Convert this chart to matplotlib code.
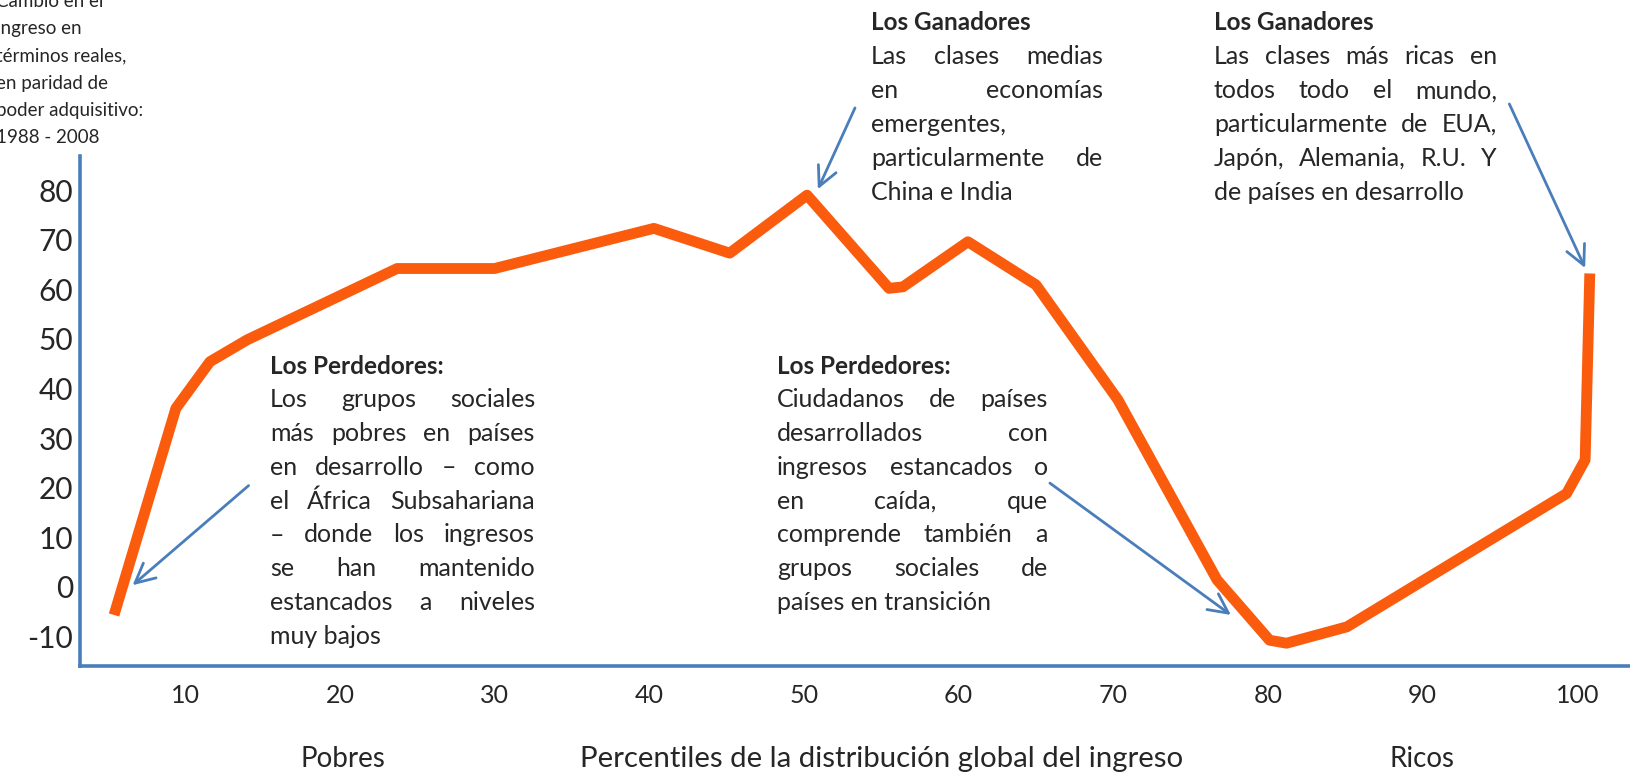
import matplotlib

matplotlib.use("Agg")
import matplotlib.pyplot as plt

# Curva del elefante: cambio del ingreso real (%) por percentil global, 1988-2008
PERCENTILES = [5.4, 9.4, 11.6, 14.0, 23.7, 30.0, 40.3, 45.2, 50.2, 55.5, 56.4,
               60.6, 65.0, 70.3, 76.7, 80.1, 81.2, 85.1, 99.3, 100.5, 100.8]
INCOME_CHANGE = [-5.7, 36.0, 45.4, 49.8, 64.2, 64.2, 72.3, 67.3, 79.0, 60.2, 60.5,
                 69.6, 60.9, 37.7, 1.4, -10.8, -11.4, -8.1, 18.8, 25.6, 63.2]
X_TICKS = [10, 20, 30, 40, 50, 60, 70, 80, 90, 100]
Y_TICKS = [-10, 0, 10, 20, 30, 40, 50, 60, 70, 80]

Y_LABEL = "Cambio en el\ningreso en\ntérminos reales,\nen paridad de\npoder adquisitivo:\n1988 - 2008"
X_LABEL = "Percentiles de la distribución global del ingreso"
POOR_LABEL = "Pobres"
RICH_LABEL = "Ricos"

NOTES = [
    ("Los Perdedores:", [[
        "Los grupos sociales",
        "más pobres en países",
        "en desarrollo – como",
        "el África Subsahariana",
        "– donde los ingresos",
        "se han mantenido",
        "estancados a niveles",
        "muy bajos",
    ]]),
    ("Los Perdedores:", [[
        "Ciudadanos de países",
        "desarrollados con",
        "ingresos estancados o",
        "en caída, que",
        "comprende también a",
        "grupos sociales de",
        "países en transición",
    ]]),
    ("Los Ganadores", [
        ["Las clases medias", "en economías", "emergentes,"],
        ["particularmente de", "China e India"],
    ]),
    ("Los Ganadores", [[
        "Las clases más ricas en",
        "todos todo el mundo,",
        "particularmente de EUA,",
        "Japón, Alemania, R.U. Y",
        "de países en desarrollo",
    ]]),
]
# (left, right, top) de cada bloque de texto, en pixeles de la figura
NOTE_BOXES = [(270, 535, 366), (777, 1048, 366), (871, 1103, 23), (1214, 1497, 23)]
# flechas: (cola, punta) en coordenadas de datos
ARROWS = [
    ((14.1, 20.4), (6.6, 0.3)),
    ((53.3, 96.6), (50.9, 80.2)),
    ((65.9, 20.9), (77.6, -5.7)),
    ((95.6, 97.4), (100.5, 64.3)),
]

W, H = 1630, 773
LINE_COLOR = "#fb5b0c"
AXIS_COLOR = "#4a7ebb"
TEXT_COLOR = "#262626"
LINE_STEP = 33.8


def px(x, y):
    return x / W, 1 - y / H


def justified_block(fig, renderer, left, right, top, title, paragraphs, size=18):
    fig.text(*px(left, top), title, fontsize=17.5, fontweight="bold",
             color=TEXT_COLOR, va="center", ha="left")
    row = 1
    for para in paragraphs:
        for index, line in enumerate(para):
            y = top + row * LINE_STEP
            words = line.split(" ")
            if index == len(para) - 1 or len(words) == 1:
                fig.text(*px(left, y), line, fontsize=size, color=TEXT_COLOR, va="center", ha="left")
            else:
                arts = [fig.text(0, 0, w, fontsize=size, color=TEXT_COLOR, va="center", ha="left")
                        for w in words]
                widths = [a.get_window_extent(renderer).width for a in arts]
                gap = (right - left - sum(widths)) / (len(words) - 1)
                x = left
                for art, width in zip(arts, widths):
                    art.set_position(px(x, y))
                    x += width + gap
            row += 1


def main() -> None:
    plt.rcParams["font.family"] = ["Lato", "DejaVu Sans"]
    plt.rcParams["axes.unicode_minus"] = False
    fig = plt.figure(figsize=(W / 100, H / 100), dpi=100)
    ax = fig.add_axes([80 / W, 1 - 666 / H, 1 - 80 / W, (666 - 156) / H])

    ax.plot(PERCENTILES, INCOME_CHANGE, color=LINE_COLOR, linewidth=7.8,
            solid_joinstyle="round", solid_capstyle="butt", zorder=3)

    ax.set_xlim(3.2, 103.4)
    ax.set_ylim(-16.0, 86.9)
    ax.set_xticks(X_TICKS)
    ax.set_yticks(Y_TICKS)
    ax.tick_params(axis="both", length=0, colors=TEXT_COLOR)
    ax.tick_params(axis="y", labelsize=21.5, pad=5)
    ax.tick_params(axis="x", labelsize=18, pad=13)
    for side in ("top", "right"):
        ax.spines[side].set_visible(False)
    for side in ("left", "bottom"):
        ax.spines[side].set_color(AXIS_COLOR)
        ax.spines[side].set_linewidth(2.6)
    ax.patch.set_alpha(0)

    for tail, head in ARROWS:
        ax.annotate("", xy=head, xytext=tail, annotation_clip=False,
                    arrowprops=dict(arrowstyle="->,head_length=0.7,head_width=0.35",
                                    color=AXIS_COLOR, lw=2.0, mutation_scale=20,
                                    shrinkA=0, shrinkB=0))

    fig.text(*px(-4, 69.5), Y_LABEL, fontsize=13.5, color=TEXT_COLOR, va="center", ha="left",
             linespacing=1.73)
    fig.text(*px(343, 759), POOR_LABEL, fontsize=20, color=TEXT_COLOR, ha="center", va="center")
    fig.text(*px(882, 759), X_LABEL, fontsize=21.2, color=TEXT_COLOR, ha="center", va="center")
    fig.text(*px(1422, 759), RICH_LABEL, fontsize=20, color=TEXT_COLOR, ha="center", va="center")

    renderer = fig.canvas.get_renderer()
    for (left, right, top), (title, paragraphs) in zip(NOTE_BOXES, NOTES):
        justified_block(fig, renderer, left, right, top, title, paragraphs)

    fig.savefig("out.png", dpi=100)
    plt.close(fig)


if __name__ == "__main__":
    main()
